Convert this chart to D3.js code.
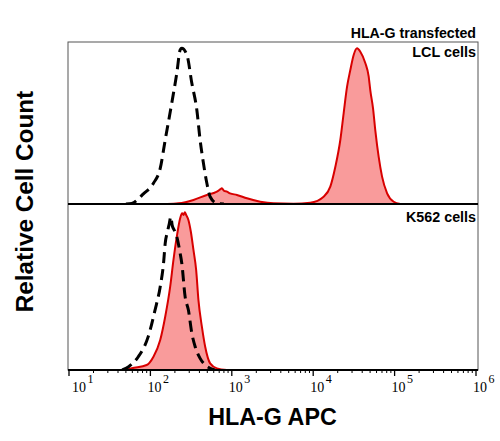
<!DOCTYPE html>
<html><head><meta charset="utf-8">
<script src="https://cdn.jsdelivr.net/npm/d3@7"></script>
<style>body{margin:0;background:#fff}svg{display:block}</style>
</head><body><svg id="c" width="500" height="441"></svg>
<script>
// APC intensity (linear) and relative count
const lclIsoX = [50,59,82,109,132,152,171,192,211,232,243,281,323,372,408,442,494,542,656,800];
const lclIsoY = [0,.004,.062,.128,.220,.395,.539,.683,.807,.951,.961,.920,.745,.580,.395,.272,.128,.045,.004,0];
const lclHlaX = [160,221,338,494,600,656,720,755,800,871,950,1156,1535,2234,3258,5741,9204,13430,16220,18710,21530,23660,26060,28580,31410,34590,37930,43750,47970,50350,54330,58080,63680,70150,80910,97500,117800];
const lclHlaY = [0,.004,.025,.056,.068,.076,.090,.097,.082,.076,.066,.056,.035,.014,.004,.002,.008,.045,.107,.230,.395,.560,.724,.827,.920,.961,.940,.869,.790,.700,.590,.450,.292,.169,.066,.014,0];
const k562IsoX = [45,54,71,94,114,132,145,152,162,171,178,185,196,211,232,243,267,293,323,355,408,471,542,620];
const k562IsoY = [0,.020,.080,.201,.361,.502,.643,.763,.833,.884,.923,.873,.843,.803,.703,.643,.442,.361,.221,.140,.070,.030,.010,0];
const k562HlaX = [50,59,90,109,132,152,175,192,211,232,245,255,265,275,293,314,338,365,389,429,471,542,656,871];
const k562HlaY = [0,.010,.030,.080,.181,.321,.502,.663,.803,.914,.945,.934,.950,.934,.904,.833,.723,.602,.422,.261,.140,.040,.010,0];
const tickExp = [1,2,3,4,5,6];
const panelLabels = [["HLA-G transfected","LCL cells"],["K562 cells"]];

const svg = d3.select("#c");
const x = d3.scaleLog().domain([10,1e6]).range([69,476]);
const L = 68, R = 478;
const panels = [
  {top:42, bot:204, iso:[lclIsoX,lclIsoY], hla:[lclHlaX,lclHlaY]},
  {top:204, bot:370, iso:[k562IsoX,k562IsoY], hla:[k562HlaX,k562HlaY]}
];
const defs = svg.append("defs");
panels.forEach((p,i)=>{
  defs.append("clipPath").attr("id","cp"+i).append("rect")
    .attr("x",L).attr("y",p.top).attr("width",R-L).attr("height",p.bot-p.top);
});
// frame
svg.append("rect").attr("x",L).attr("y",42).attr("width",R-L).attr("height",370-42)
  .attr("fill","none").attr("stroke","#555").attr("stroke-width",1);

panels.forEach((p,i)=>{
  const y = d3.scaleLinear().domain([0,1]).range([p.bot,p.top]);
  const g = svg.append("g").attr("clip-path","url(#cp"+i+")");
  const hla = p.hla[0].map((v,k)=>[v,p.hla[1][k]]);
  const iso = p.iso[0].map((v,k)=>[v,p.iso[1][k]]);
  const area = d3.area().x(d=>x(d[0])).y0(p.bot).y1(d=>y(d[1])).curve(d3.curveMonotoneX);
  const line = d3.line().x(d=>x(d[0])).y(d=>y(d[1])).curve(d3.curveMonotoneX);
  g.append("path").attr("d",area(hla)).attr("fill","#f99b9b");
  g.append("path").attr("d",line(hla)).attr("fill","none").attr("stroke","#d80000").attr("stroke-width",2);
  g.append("path").attr("d",line(iso)).attr("fill","none").attr("stroke","#000")
    .attr("stroke-width",3).attr("stroke-dasharray","11,6");
  svg.append("line").attr("x1",L).attr("x2",R).attr("y1",p.bot).attr("y2",p.bot)
    .attr("stroke","#000").attr("stroke-width",2);
});

// axis ticks
const ax = svg.append("g");
for (let e=1;e<=6;e++){
  for (let m=1;m<=9;m++){
    const v = m*Math.pow(10,e);
    if (m===1) {
      ax.append("line").attr("x1",x(v)).attr("x2",x(v)).attr("y1",370).attr("y2",376)
        .attr("stroke","#000").attr("stroke-width",1.3);
    } else if (e<6) {
      ax.append("line").attr("x1",x(v)).attr("x2",x(v)).attr("y1",370).attr("y2",373)
        .attr("stroke","#000").attr("stroke-width",1);
    }
  }
}
tickExp.forEach((e,i)=>{
  const px = Math.max(x(Math.pow(10,e))-3, 72);
  const t = ax.append("text").attr("x",px).attr("y",392)
    .attr("font-family","Liberation Serif, Times New Roman, serif").attr("font-size",14).attr("fill","#000");
  t.append("tspan").text("10");
  t.append("tspan").attr("dy",-9).attr("dx",1.5).attr("font-size",12).text(e);
});

// labels
const sans = "Liberation Sans, Arial, Helvetica, sans-serif";
svg.append("text").attr("x",476).attr("y",37.5).attr("text-anchor","end")
  .attr("font-family",sans).attr("font-weight","bold").attr("font-size",14.2).text(panelLabels[0][0]);
svg.append("text").attr("x",476).attr("y",57).attr("text-anchor","end")
  .attr("font-family",sans).attr("font-weight","bold").attr("font-size",14.4).text(panelLabels[0][1]);
svg.append("text").attr("x",476).attr("y",221.5).attr("text-anchor","end")
  .attr("font-family",sans).attr("font-weight","bold").attr("font-size",14.3).text(panelLabels[1][0]);
svg.append("text").attr("transform","translate(33,201.5) rotate(-90)").attr("text-anchor","middle")
  .attr("font-family",sans).attr("font-weight","bold").attr("font-size",24.3).text("Relative Cell Count");
svg.append("text").attr("x",272.5).attr("y",425).attr("text-anchor","middle")
  .attr("font-family",sans).attr("font-weight","bold").attr("font-size",23.3).text("HLA-G APC");
</script></body></html>
